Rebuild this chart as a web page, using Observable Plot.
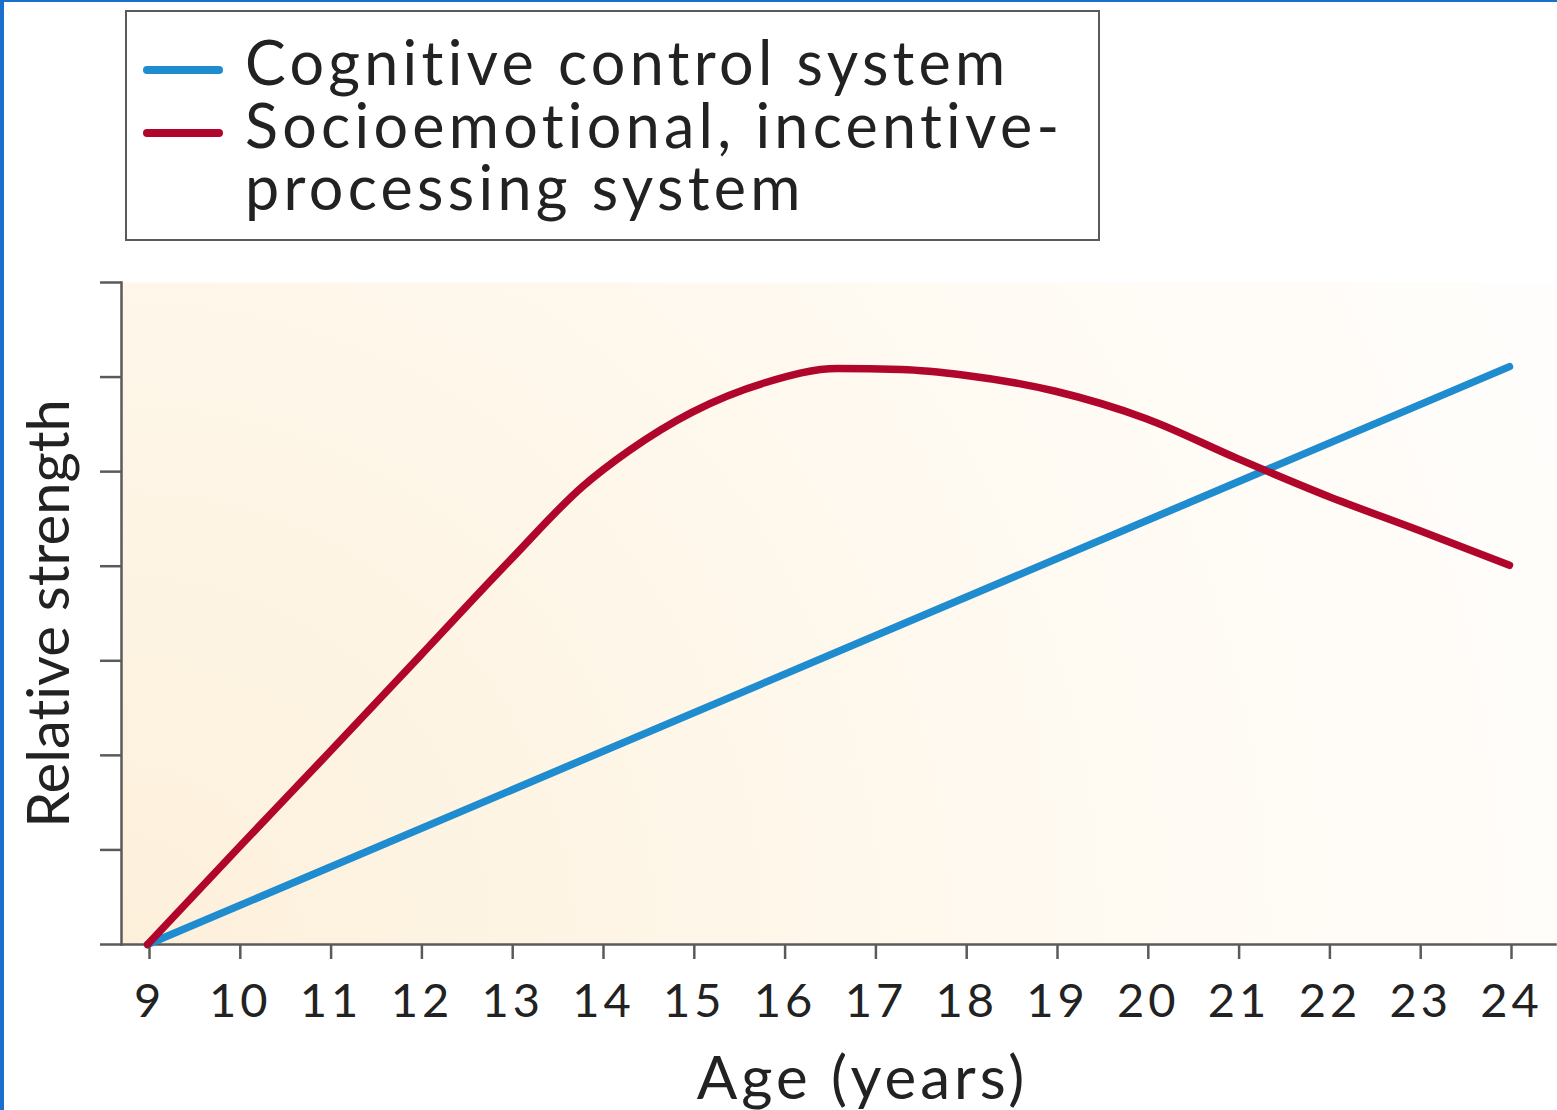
<!DOCTYPE html>
<html>
<head>
<meta charset="utf-8">
<script src="https://cdn.jsdelivr.net/npm/d3@7"></script>
<script src="https://cdn.jsdelivr.net/npm/@observablehq/plot@0.6"></script>
<style>
  html, body { margin: 0; padding: 0; background: #fff; width: 1557px; height: 1110px; overflow: hidden; font-family: Lato, sans-serif; font-variant-ligatures: none; }
  #edgeL { position: absolute; left: 0; top: 0; width: 4px; height: 1110px; background: #1b6fcd; z-index: 5; }
  #edgeT { position: absolute; left: 0; top: 0; width: 1557px; height: 2px; background: #1b6fcd; z-index: 5; }
  #legend { position: absolute; left: 125px; top: 10px; width: 971px; height: 227px; border: 2px solid #5a5a5a; background: #fff; }
  .sw { position: absolute; width: 80px; height: 8px; border-radius: 4px; }
  .lt { position: absolute; left: 118px; top: 19px; font-family: Lato, sans-serif; font-size: 61px; line-height: 62.5px; letter-spacing: 4.3px; color: #222; white-space: nowrap; font-variant-ligatures: none; }
  #chart { position: absolute; left: 0; top: 250px; }
  #chart svg text { font-variant-ligatures: none; }
  #chart svg g[aria-label="x-axis tick label"] text { letter-spacing: 4px; }
  #chart svg g.age-label text { letter-spacing: 4px; }
</style>
</head>
<body>
<div id="edgeL"></div><div id="edgeT"></div>
<div id="legend"></div>
<div id="chart"></div>
<script>
// ---- data ----
const seriesNames = ["Cognitive control system", "Socioemotional, incentive-processing system"];
const seriesColors = ["#1f8ccf", "#b1062b"];
const cognitiveAge = [9, 24];
const cognitiveValue = [0, 6.11];
const socioAge = [9, 10, 11, 12, 13, 13.8, 14.3, 15, 15.8, 16.6, 17.3, 18, 19, 20, 21, 22, 23, 24];
const socioValue = [0, 1.02, 2.03, 3.05, 4.07, 4.85, 5.22, 5.63, 5.94, 6.09, 6.08, 6.02, 5.85, 5.56, 5.14, 4.74, 4.38, 4.01];
const xTicks = [9, 10, 11, 12, 13, 14, 15, 16, 17, 18, 19, 20, 21, 22, 23, 24];
const yTicks = [0, 1, 2, 3, 4, 5, 6, 7];
const legendLines = ["Cognitive control system", "Socioemotional, incentive-", "processing system"];

const cognitive = cognitiveAge.map((a, i) => ({age: a, value: cognitiveValue[i], series: seriesNames[0]}));
const socio = socioAge.map((a, i) => ({age: a, value: socioValue[i], series: seriesNames[1]}));

// ---- legend (HTML) ----
const leg = document.getElementById("legend");
const swatchTops = [54, 117];
seriesColors.forEach((c, i) => {
  const s = document.createElement("div");
  s.className = "sw";
  s.style.left = "16px";
  s.style.top = swatchTops[i] + "px";
  s.style.background = c;
  leg.appendChild(s);
});
const txt = document.createElement("div");
txt.className = "lt";
legendLines.forEach((t, j) => {
  if (j) txt.appendChild(document.createElement("br"));
  txt.appendChild(document.createTextNode(t));
});
leg.appendChild(txt);

// ---- chart ----
const chart = Plot.plot({
  width: 1557,
  height: 860,
  marginTop: 32,
  marginBottom: 166,
  marginLeft: 121,
  marginRight: 2,
  style: {fontFamily: "Lato, sans-serif", background: "transparent", color: "#222"},
  x: {domain: [9, 24], insetLeft: 26, insetRight: 46},
  y: {domain: [0, 7]},
  marks: [
    Plot.frame({fill: "url(#bgGrad)", stroke: null}),
    Plot.axisY({ticks: yTicks, tickSize: 21, tickFormat: () => "", stroke: "#5a5a5a", strokeWidth: 2.5, label: null}),
    Plot.axisX({ticks: xTicks, tickSize: 15, tickPadding: 24, fontSize: 47, dx: 2, stroke: "#5a5a5a", strokeWidth: 2.5, fill: "#222", label: null}),
    Plot.frame({anchor: "left", stroke: "#5a5a5a", strokeWidth: 2.5}),
    Plot.frame({anchor: "bottom", stroke: "#5a5a5a", strokeWidth: 2.5}),
    Plot.line(cognitive, {x: "age", y: "value", stroke: seriesColors[0], strokeWidth: 7.5, strokeLinecap: "round", strokeLinejoin: "round"}),
    Plot.line(socio, {x: "age", y: "value", stroke: seriesColors[1], strokeWidth: 7.5, strokeLinecap: "round", strokeLinejoin: "round", curve: "monotone-x"}),
    Plot.text(["Age (years)"], {frameAnchor: "bottom", text: d => d, fontSize: 60, lineAnchor: "bottom", dy: 154, dx: 24, fill: "#222", className: "age-label"}),
    Plot.text(["Relative strength"], {frameAnchor: "left", text: d => d, fontSize: 58, rotate: -90, textAnchor: "middle", lineAnchor: "bottom", dx: -53, fill: "#222"})
  ]
});

d3.select(chart).insert("defs", ":first-child").html(
  `<radialGradient id="bgGrad" gradientUnits="userSpaceOnUse" cx="121" cy="694" r="1650">
     <stop offset="0" stop-color="#fdf0db"/>
     <stop offset="0.35" stop-color="#fef6e8"/>
     <stop offset="0.7" stop-color="#fffbf5"/>
     <stop offset="1" stop-color="#fffefd"/>
   </radialGradient>`
);
document.getElementById("chart").appendChild(chart);
</script>
</body>
</html>
